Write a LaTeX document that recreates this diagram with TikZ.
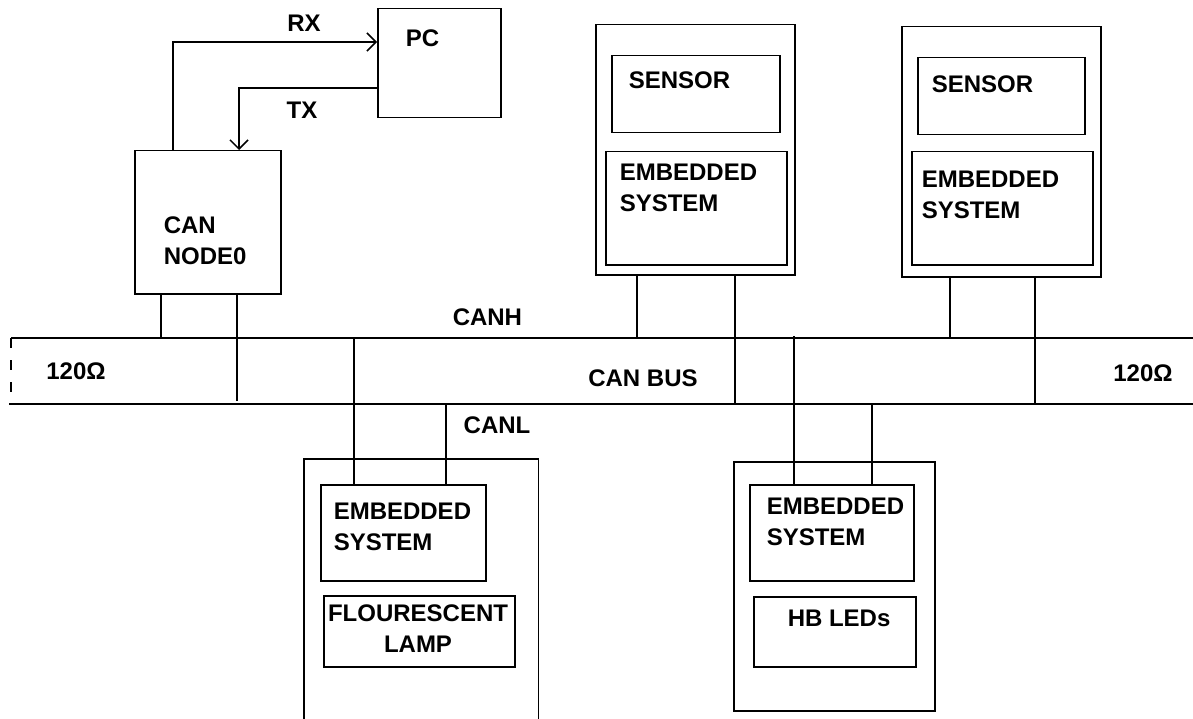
\documentclass[tikz,border=0pt]{standalone}
\usepackage{fontspec}
\setmainfont{Liberation Sans}
\usetikzlibrary{arrows.meta}
\begin{document}
\begin{tikzpicture}[x=1pt,y=-1pt,line width=1.5pt,
  box/.style={draw,rectangle,inner sep=0pt,anchor=north west},
  hidden/.style={rectangle,inner sep=0pt,anchor=north west},
  lbl/.style={inner sep=0pt,font=\fontsize{24}{31}\selectfont\bfseries},
  wlbl/.style={lbl,anchor=west,align=left},
  arr/.style={-{Straight Barb[length=9pt,width=18pt,line width=1.5pt]}}]
\useasboundingbox (0,0) rectangle (1193,719);
% bus reference coordinates
\coordinate (busT) at (0,338);
\coordinate (busB) at (0,404);
% PC and CAN node 0
\node[box,minimum width=123pt,minimum height=109pt] (pc) at (377,8) {};
\node[wlbl] (pct) at (405,38) {PC};
\node[box,minimum width=146pt,minimum height=143pt] (cn) at (134,150) {};
\node[wlbl] (cnt) at (163,241) {CAN\\NODE0};
\draw[arr] (173,0 |- cn.north) -- (173,42) -- (pc.west |- 0,42);
\draw[arr] (pc.west |- 0,88) -- (239,88) -- (239,0 |- cn.north);
\node[lbl] (rx) at (304,23) {RX};
\node[lbl] (tx) at (302,110) {TX};
% sensor node 1
\node[box,minimum width=199pt,minimum height=250pt] (s1) at (595,24) {};
\node[box,minimum width=168pt,minimum height=77pt] (s1s) at (611,55) {};
\node[wlbl] (s1st) at (628,80) {SENSOR};
\node[box,minimum width=181pt,minimum height=113pt] (s1e) at (605,151) {};
\node[wlbl] (s1et) at (619,188) {EMBEDDED\\SYSTEM};
% sensor node 2
\node[box,minimum width=199pt,minimum height=250pt] (s2) at (901,26) {};
\node[box,minimum width=167pt,minimum height=77pt] (s2s) at (917,57) {};
\node[wlbl] (s2st) at (931,84) {SENSOR};
\node[box,minimum width=181pt,minimum height=113pt] (s2e) at (911,151) {};
\node[wlbl] (s2et) at (921,195) {EMBEDDED\\SYSTEM};
% lamp node
\node[hidden,minimum width=233pt,minimum height=262pt] (lo) at (304,459) {};
\draw (lo.south west) -- (lo.north west) -- (lo.north east) -- (lo.south east);
\node[box,minimum width=165pt,minimum height=96pt] (le) at (320,484) {};
\node[wlbl] (let) at (333,527) {EMBEDDED\\SYSTEM};
\node[box,minimum width=191pt,minimum height=71pt] (lf) at (323,595) {};
\node[lbl,align=center] (lft) at (418,629) {FLOURESCENT\\LAMP};
% HB LED node
\node[box,minimum width=201pt,minimum height=249pt] (ho) at (733,461) {};
\node[box,minimum width=164pt,minimum height=96pt] (he) at (749,484) {};
\node[wlbl] (het) at (766,522) {EMBEDDED\\SYSTEM};
\node[box,minimum width=162pt,minimum height=70pt] (hl) at (753,596) {};
\node[wlbl] (hlt) at (787,618) {HB LEDs};
% bus
\draw (11,0 |- busT) -- (1193,0 |- busT);
\draw (9,0 |- busB) -- (1193,0 |- busB);
\draw[dashed,dash pattern=on 10pt off 12pt] (11,0 |- busT) -- (11,0 |- busB);
\node[lbl] (rl) at (76,371) {120Ω};
\node[lbl] (rr) at (1143,373) {120Ω};
\node[wlbl] (canh) at (452,317) {CANH};
\node[lbl] (canbus) at (643,378) {CAN BUS};
\node[lbl] (canl) at (497,425) {CANL};
% legs
\draw (161,0 |- cn.south) -- (161,0 |- busT);
\draw (237,0 |- cn.south) -- (237,401);
\draw (637,0 |- s1.south) -- (637,0 |- busT);
\draw (735,0 |- s1.south) -- (735,0 |- busB);
\draw (950,0 |- s2.south) -- (950,0 |- busT);
\draw (1035,0 |- s2.south) -- (1035,0 |- busB);
\draw (354,0 |- busT) -- (354,0 |- le.north);
\draw (446,0 |- busB) -- (446,0 |- le.north);
\draw (794,336) -- (794,0 |- he.north);
\draw (872,0 |- busB) -- (872,0 |- he.north);
\end{tikzpicture}
\end{document}
